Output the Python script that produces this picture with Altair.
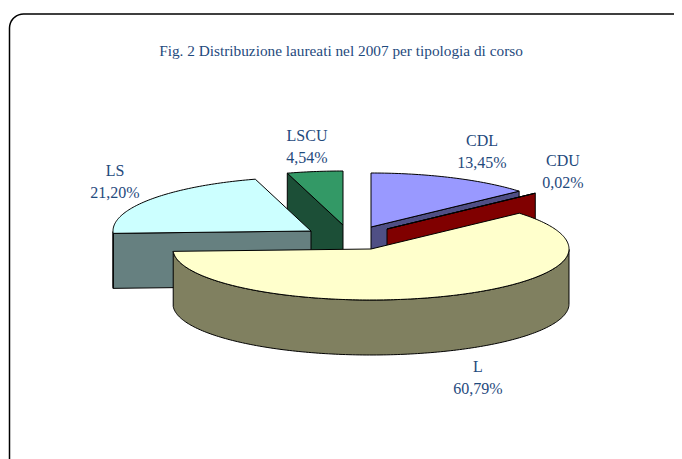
import math
import altair as alt
import pandas as pd

categories = ["CDL", "CDU", "L", "LS", "LSCU"]
shares = [13.45, 0.02, 60.79, 21.20, 4.54]
share_labels = ["13,45%", "0,02%", "60,79%", "21,20%", "4,54%"]
top_colors = ["#9999FF", "#800000", "#FFFFCC", "#CCFFFF", "#339966"]
side_colors = ["#4F4F85", "#800000", "#808060", "#668080", "#1C4F37"]
centers_x = [371, 387, 371, 311, 343]
centers_y = [227, 229, 249, 231, 225]
label_x = [482, 563, 478, 115, 307]
label_y = [141, 161, 367, 171, 136]
title_text = "Fig. 2 Distribuzione laureati nel 2007 per tipologia di corso"

RX, RY_BACK, RY_FRONT, DEPTH = 198, 54, 51, 55
TEXT = "#1F4A7D"
W, H = 674, 459

x_scale = alt.Scale(domain=[8, W], range=[0, W - 8], nice=False, zero=False)
y_scale = alt.Scale(domain=[8, H], range=[0, H - 8], nice=False, zero=False)


def rim(cx, cy, a1, a2):
    """Rim points, clockwise on screen from angle a1 down to a2 (degrees)."""
    n = max(2, int(abs(a1 - a2)) + 1)
    pts = []
    for i in range(n + 1):
        a = a1 + (a2 - a1) * i / n
        s = math.sin(math.radians(a))
        b = RY_BACK if s >= 0 else RY_FRONT
        pts.append((cx + RX * math.cos(math.radians(a)), cy - b * s))
    return pts


def polygon(pts, fill, width=1.0):
    df = pd.DataFrame(
        {"x": [p[0] for p in pts] + [pts[0][0]],
         "y": [p[1] for p in pts] + [pts[0][1]]}
    )
    df["i"] = range(len(df))
    return alt.Chart(df).mark_line(
        fill=fill, stroke="#000000", strokeWidth=width, strokeJoin="round", interpolate="linear"
    ).encode(
        x=alt.X("x:Q", scale=x_scale, axis=None),
        y=alt.Y("y:Q", scale=y_scale, axis=None),
        order="i:Q",
    )


# angular spans, clockwise from 12 o'clock
angle = 90.0
spans = []
for s in shares:
    spans.append((angle, angle - s * 3.6))
    angle -= s * 3.6

draw_order = [4, 3, 0, 1, 2]
layers = []

# frame
r = 14
frame = [(9.5, H), (9.5, 14 + r)]
frame += [(9.5 + r - r * math.cos(math.radians(d)), 14 + r - r * math.sin(math.radians(d))) for d in range(0, 91, 10)]
frame += [(W, 14)]
fdf = pd.DataFrame(frame, columns=["x", "y"])
fdf["i"] = range(len(fdf))
layers.append(
    alt.Chart(fdf).mark_line(stroke="#000000", strokeWidth=1.5).encode(
        x=alt.X("x:Q", scale=x_scale, axis=None),
        y=alt.Y("y:Q", scale=y_scale, axis=None),
        order="i:Q",
    )
)

for k in draw_order:
    a1, a2 = spans[k]
    cx, cy = centers_x[k], centers_y[k]
    side, top = side_colors[k], top_colors[k]
    edge = rim(cx, cy, a1, a2)
    # cut face seen from the front
    cut = {0: a2, 1: a2, 3: a1, 4: a1}.get(k)
    if cut is not None:
        p = rim(cx, cy, cut, cut)[0]
        layers.append(polygon([(cx, cy), p, (p[0], p[1] + DEPTH), (cx, cy + DEPTH)], side))
    # outer wall: the part of the rim below the horizontal axis
    front = [q for q in edge if q[1] >= cy]
    if k in (2, 3) and len(front) > 1:
        wall = front + [(q[0], q[1] + DEPTH) for q in reversed(front)]
        layers.append(polygon(wall, side))
    layers.append(polygon([(cx, cy)] + edge, top))

labels = pd.DataFrame(
    {
        "x": [v for v in label_x for _ in (0, 1)],
        "y": [v + d for v in label_y for d in (0, 21.5)],
        "t": [s for c, p in zip(categories, share_labels) for s in (c, p)],
    }
)
layers.append(
    alt.Chart(labels).mark_text(font="Liberation Serif", fontSize=16, color=TEXT, align="center", baseline="middle").encode(
        x=alt.X("x:Q", scale=x_scale, axis=None),
        y=alt.Y("y:Q", scale=y_scale, axis=None),
        text="t:N",
    )
)
layers.append(
    alt.Chart(pd.DataFrame({"x": [341], "y": [51], "t": [title_text]})).mark_text(
        font="Liberation Serif", fontSize=15.3, color=TEXT, align="center", baseline="middle"
    ).encode(
        x=alt.X("x:Q", scale=x_scale, axis=None),
        y=alt.Y("y:Q", scale=y_scale, axis=None),
        text="t:N",
    )
)

chart = alt.layer(*layers).properties(
    width=W - 8, height=H - 8, padding=0, background="#FFFFFF",
    autosize=alt.AutoSizeParams(type="none"),
).configure_view(stroke=None)
chart.save("out.html", embed_options={"renderer": "svg", "actions": False})
